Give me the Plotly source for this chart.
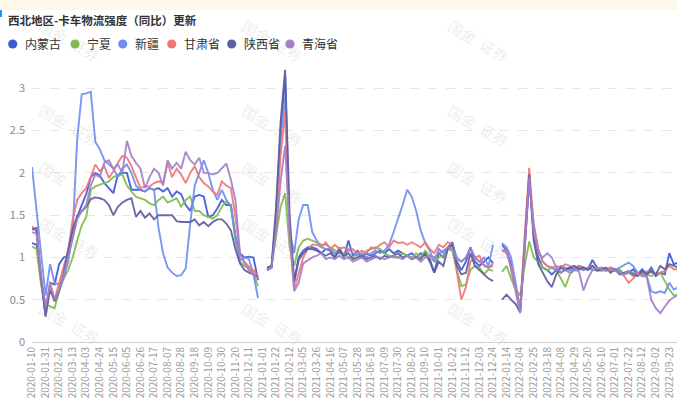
import plotly.graph_objects as go
import pandas as pd

# ---------------- data ----------------
weeks = pd.date_range("2020-01-10", periods=144, freq="7D").strftime("%Y-%m-%d").tolist()
tick_labels = weeks[0:142:3]
GAP = [None]

nm_2020 = [1.17,1.15,0.72,0.32,0.70,0.68,0.92,1.00,1.02,1.25,
           1.48,1.62,1.75,1.95,2.00,1.97,1.88,1.82,1.76,1.98,
           2.00,2.00,1.80,1.80,1.80,1.78,1.82,1.80,1.82,1.78,
           1.82,1.72,1.78,1.75,1.62,1.55,1.72,1.74,1.72,1.48,
           1.50,1.58,1.68,1.62,1.62,1.25,1.05,1.00,1.01,1.00,
           0.73]
nm_2021 = [0.85,0.88,1.50,2.50,3.15,1.30,0.72,1.00,
           1.08,1.12,1.12,1.10,1.05,1.10,1.08,1.00,1.12,1.00,
           1.20,1.02,1.08,1.00,1.05,1.02,1.05,1.08,1.05,1.10,
           1.05,1.08,1.05,1.02,1.05,1.00,1.05,1.02,0.98,0.82,
           1.05,1.00,1.12,1.18,0.95,0.85,0.95,1.12,0.95,0.90,
           0.95,1.00,0.93]
nm_2022 = [1.15,1.08,0.92,0.62,0.36,1.20,
           1.98,1.25,1.00,0.88,0.85,0.80,0.85,0.82,0.86,0.88,
           0.86,0.90,0.88,0.86,0.97,0.88,0.86,0.85,0.88,0.86,
           0.84,0.80,0.82,0.86,0.80,0.86,0.80,0.88,0.78,0.82,
           0.80,1.05,0.92,0.94]

nx_2020 = [1.13,1.10,0.68,0.45,0.42,0.40,0.60,0.75,0.85,1.00,
           1.20,1.38,1.48,1.80,1.84,1.86,1.88,1.90,1.95,1.97,
           1.98,1.85,1.78,1.72,1.70,1.68,1.64,1.62,1.68,1.72,
           1.65,1.68,1.70,1.60,1.68,1.72,1.55,1.55,1.50,1.48,
           1.46,1.50,1.60,1.66,1.62,1.20,0.95,0.90,0.87,0.80,
           0.66]
nx_2021 = [0.88,0.90,1.25,1.60,1.76,1.12,0.90,1.12,
           1.20,1.22,1.20,1.18,1.15,1.15,1.12,1.08,1.05,1.05,
           1.00,1.00,1.05,1.02,1.08,1.10,1.12,1.10,1.05,1.02,
           1.00,1.00,1.05,1.02,1.00,1.05,1.00,1.08,1.02,0.95,
           1.00,1.02,1.10,1.08,0.85,0.66,0.68,0.85,0.90,0.88,
           0.80,0.86,0.84]
nx_2022 = [0.83,0.90,0.75,0.62,0.55,0.90,
           1.19,1.00,0.95,0.88,0.85,0.88,0.85,0.75,0.65,0.80,
           0.85,0.87,0.85,0.88,0.86,0.85,0.84,0.86,0.85,0.84,
           0.86,0.80,0.82,0.78,0.80,0.82,0.80,0.78,0.80,0.82,
           0.72,0.62,0.55,0.56]

xj_2020 = [2.07,1.55,1.05,0.55,0.92,0.70,0.68,0.75,0.95,1.30,
           2.40,2.93,2.94,2.96,2.37,2.28,2.15,2.10,2.05,1.95,
           2.05,2.10,2.00,1.85,1.80,1.78,1.82,1.80,1.35,1.05,
           0.88,0.82,0.78,0.79,0.87,1.40,1.85,2.00,2.15,2.00,
           1.80,1.68,1.80,1.68,1.60,1.25,0.97,1.00,0.98,0.80,
           0.52]
xj_2021 = [0.85,0.88,1.45,2.40,2.90,1.30,1.05,1.45,
           1.62,1.62,1.30,1.20,1.12,1.10,1.10,1.05,1.08,1.00,
           1.10,1.05,1.02,1.05,1.00,1.05,1.08,1.05,1.08,1.15,
           1.30,1.45,1.62,1.80,1.72,1.55,1.32,1.17,1.08,0.95,
           1.10,1.05,1.12,1.15,1.00,0.95,1.00,1.12,1.00,0.95,
           1.00,0.90,1.15]
xj_2022 = [1.17,1.12,1.00,0.70,0.40,1.10,
           1.90,1.40,1.10,0.95,0.90,0.88,0.85,0.90,0.88,0.85,
           0.86,0.88,0.85,0.88,0.85,0.86,0.88,0.85,0.87,0.85,
           0.88,0.92,0.94,0.90,0.82,0.80,0.78,0.60,0.58,0.60,
           0.58,0.70,0.62,0.65]

gs_2020 = [1.37,1.30,0.75,0.35,0.70,0.50,0.70,0.88,1.08,1.45,
           1.68,1.76,1.82,1.95,2.10,2.02,2.08,1.94,2.02,2.12,
           2.20,2.18,2.08,1.95,1.82,1.84,1.84,1.88,1.90,1.88,
           2.12,1.95,2.05,1.98,1.88,2.00,2.08,1.95,1.88,1.84,
           1.78,1.74,1.90,1.85,1.82,1.48,1.05,0.95,0.89,0.85,
           0.77]
gs_2021 = [0.86,0.90,1.40,2.20,2.72,1.25,0.62,0.81,
           1.00,1.10,1.15,1.15,1.12,1.18,1.10,1.15,1.10,1.12,
           1.08,1.10,1.05,1.08,1.05,1.12,1.10,1.15,1.18,1.12,
           1.20,1.17,1.18,1.15,1.18,1.15,1.12,1.18,1.10,1.05,
           1.15,1.12,1.18,1.15,0.80,0.50,0.65,0.95,1.00,1.02,
           0.90,0.88,0.93]
gs_2022 = [1.09,1.05,0.89,0.65,0.38,1.25,
           2.06,1.37,1.09,0.95,0.90,0.88,0.90,0.88,0.92,0.90,
           0.88,0.90,0.86,0.88,0.90,0.86,0.88,0.86,0.88,0.84,
           0.82,0.78,0.70,0.75,0.82,0.80,0.84,0.82,0.80,0.82,
           0.84,0.90,0.86,0.86]

sx_2020 = [1.33,1.35,0.77,0.30,0.62,0.48,0.60,0.81,1.09,1.33,
           1.49,1.54,1.60,1.69,1.71,1.70,1.68,1.62,1.50,1.60,
           1.65,1.68,1.70,1.48,1.55,1.47,1.52,1.45,1.50,1.50,
           1.50,1.50,1.43,1.42,1.42,1.42,1.45,1.38,1.42,1.37,
           1.42,1.45,1.45,1.40,1.32,1.10,0.93,0.85,0.82,0.80,
           0.77]
sx_2021 = [0.88,0.90,1.60,2.60,3.22,1.50,0.71,0.97,
           1.05,1.10,1.10,1.08,1.05,1.02,1.05,1.00,1.08,1.02,
           1.05,0.98,1.00,1.02,0.98,1.00,1.02,0.98,1.02,1.00,
           1.02,1.05,1.00,1.02,0.98,1.00,0.98,1.05,0.95,0.82,
           0.95,0.90,1.10,1.15,0.90,0.80,0.82,1.05,0.90,0.85,
           0.80,0.75,0.72]
sx_2022 = [0.50,0.56,0.50,0.45,0.35,1.10,
           1.98,1.20,0.92,0.82,0.72,0.65,0.80,0.88,0.85,0.88,
           0.90,0.86,0.88,0.85,0.90,0.84,0.86,0.88,0.82,0.86,
           0.80,0.82,0.84,0.80,0.78,0.84,0.80,0.84,0.80,0.90,
           0.86,0.92,0.90,0.88]

qh_2020 = [1.30,1.28,0.80,0.42,0.68,0.50,0.62,0.78,1.00,1.22,
           1.45,1.55,1.62,1.85,1.98,1.95,2.12,2.15,2.05,2.10,
           2.00,2.38,2.20,2.12,2.05,1.82,1.95,2.05,2.00,1.85,
           2.15,2.05,2.12,2.05,2.25,2.15,2.10,2.18,2.00,2.00,
           1.98,2.00,2.05,2.11,1.92,1.68,1.05,0.93,0.85,0.80,
           0.75]
qh_2021 = [0.86,0.88,1.30,1.90,2.32,1.30,0.60,0.70,
           0.93,0.97,1.00,1.02,1.05,0.98,1.00,0.98,1.02,0.98,
           1.00,0.95,0.98,1.00,0.95,0.98,1.00,1.00,0.98,1.00,
           1.02,1.00,0.98,1.02,0.98,1.00,0.95,1.00,1.02,1.00,
           1.05,1.08,1.12,1.10,0.98,0.95,1.00,1.10,1.00,0.95,
           0.92,0.88,0.90]
qh_2022 = [1.07,1.10,0.85,0.60,0.34,1.10,
           1.95,1.30,1.05,1.00,1.05,1.00,0.88,0.82,0.85,0.82,
           0.85,0.84,0.61,0.75,0.85,0.88,0.86,0.84,0.86,0.85,
           0.82,0.80,0.84,0.82,0.80,0.78,0.77,0.50,0.40,0.34,
           0.42,0.49,0.53,0.56]

names = ["内蒙古", "宁夏", "新疆", "甘肃省", "陕西省", "青海省"]
colors = ["#3d5bd6", "#82bc4e", "#6f8ff3", "#f27676", "#5d5f9f", "#a380c9"]
series = [
    nm_2020 + GAP + nm_2021 + GAP + nm_2022,
    nx_2020 + GAP + nx_2021 + GAP + nx_2022,
    xj_2020 + GAP + xj_2021 + GAP + xj_2022,
    gs_2020 + GAP + gs_2021 + GAP + gs_2022,
    sx_2020 + GAP + sx_2021 + GAP + sx_2022,
    qh_2020 + GAP + qh_2021 + GAP + qh_2022,
]

# ---------------- figure ----------------
W, H = 677, 409
ML, MR, MT, MB = 32, 0, 63, 67
PW, PH = W - ML - MR, H - MT - MB
FONT = "Noto Sans CJK SC, Noto Sans, sans-serif"

def px2paper_x(px):
    return (px - ML) / PW

def px2paper_y(py):
    return (H - MB - py) / PH

fig = go.Figure()
for name, color, vals in zip(names, colors, series):
    fig.add_trace(go.Scatter(
        x=weeks, y=vals, name=name, mode="lines",
        line=dict(color=color, width=1.9),
        connectgaps=False, showlegend=False, opacity=0.92,
    ))

shapes = []
annotations = []

# cream strip at top + small blue marker
shapes.append(dict(type="rect", xref="paper", yref="paper",
                   x0=px2paper_x(0), x1=px2paper_x(W), y0=px2paper_y(10), y1=px2paper_y(0),
                   fillcolor="#fdf8ea", line=dict(width=0), layer="below"))
shapes.append(dict(type="rect", xref="paper", yref="paper",
                   x0=px2paper_x(0), x1=px2paper_x(2), y0=px2paper_y(17), y1=px2paper_y(10),
                   fillcolor="#1e9bf0", line=dict(width=0)))

# watermarks
for cx in [33, 272, 515]:
    for cy in [12, 97, 182, 267, 352]:
        annotations.append(dict(
            text="国金  证券", xref="paper", yref="paper",
            x=px2paper_x(cx), y=px2paper_y(cy), showarrow=False,
            textangle=30, font=dict(size=15, color="rgba(150,150,150,0.18)", family=FONT),
        ))

# legend (manual, circle markers)
leg_marker_x = [12.7, 75, 122.7, 171.7, 231.7, 290]
leg_y = 44
for name, color, mx in zip(names, colors, leg_marker_x):
    r = 4.6
    shapes.append(dict(type="circle", xref="paper", yref="paper",
                       x0=px2paper_x(mx - r), x1=px2paper_x(mx + r),
                       y0=px2paper_y(leg_y + r), y1=px2paper_y(leg_y - r),
                       fillcolor=color, line=dict(width=0)))
    annotations.append(dict(
        text=name, xref="paper", yref="paper",
        x=px2paper_x(mx + 10), y=px2paper_y(leg_y), xanchor="left", yanchor="middle",
        showarrow=False, font=dict(size=12, color="#333333", family=FONT),
    ))

fig.update_layout(
    width=W, height=H,
    margin=dict(l=ML, r=MR, t=MT, b=MB, pad=0, autoexpand=False),
    paper_bgcolor="white", plot_bgcolor="white",
    font=dict(family=FONT),
    title=dict(text="<b>西北地区-卡车物流强度（同比）更新</b>",
               x=8 / W, xanchor="left", xref="container",
               y=1 - 21 / H, yanchor="middle", yref="container",
               font=dict(size=11.5, color="#333333", family=FONT)),
    shapes=shapes,
    annotations=annotations,
    showlegend=False,
)

fig.update_xaxes(
    type="category", range=[0, 142.7], automargin=False,
    tickmode="array", tickvals=tick_labels, ticktext=tick_labels,
    tickangle=-90, tickfont=dict(size=10, color="#9a9a9a", family=FONT),
    showgrid=False, showline=True, linecolor="#cfcfcf", linewidth=1,
    ticks="", zeroline=False,
)
fig.update_yaxes(
    range=[0, 3.3], automargin=False, tickmode="array", tickvals=[0, 0.5, 1, 1.5, 2, 2.5, 3],
    ticktext=["0", "0.5", "1", "1.5", "2", "2.5", "3"],
    tickfont=dict(size=11, color="#8c8c8c", family=FONT),
    showgrid=True, gridcolor="#e6e6e6", griddash="dash", gridwidth=1,
    zeroline=False, showline=False, ticks="", ticklabelstandoff=6,
)

fig.write_html(
    "out.html",
    config={"displayModeBar": False},
    post_script="document.body.style.margin='0';document.body.style.padding='0';"
                "document.documentElement.style.overflow='hidden';",
)
